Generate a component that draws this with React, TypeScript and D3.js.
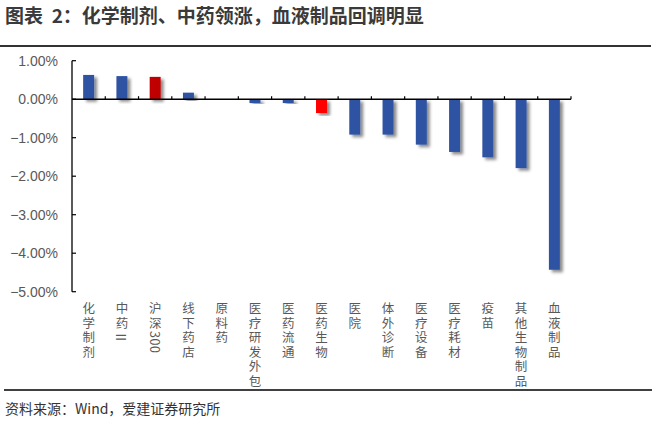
import * as d3 from 'd3';
import React from 'react';

// 申万医药子行业周涨跌幅
const categories = [
  '化学制剂', '中药Ⅱ', '沪深300', '线下药店', '原料药', '医疗研发外包', '医药流通',
  '医药生物', '医院', '体外诊断', '医疗设备', '医疗耗材', '疫苗', '其他生物制品', '血液制品',
];
const changes = [0.63, 0.6, 0.58, 0.17, 0.0, -0.1, -0.1, -0.36, -0.92, -0.92, -1.18, -1.37, -1.51, -1.79, -4.43];
const yTicks = [1, 0, -1, -2, -3, -4, -5];
const highlight: Record<string, string> = { '沪深300': '#c00000', '医药生物': '#ff0000' };

const title = '图表\u00a0\u00a02：化学制剂、中药领涨，血液制品回调明显';
const source = '资料来源：Wind，爱建证券研究所';

const W = 657;
const H = 422;
const left = 72;
const right = 571;

const BLUE = '#2e53a3';
const GREY = '#595959';

// vertical label; latin runs (and Ⅱ) are turned sideways
function XLabel({ label, x }: { label: string; x: number }) {
  const parts = label.split(/([0-9A-Za-z\u2160-\u216F]+)/).filter((s) => s);
  return (
    <text x={x} y={302} fontSize={12.5} fill={GREY}
      style={{ writingMode: 'vertical-rl', textOrientation: 'mixed', letterSpacing: '2px' }}>
      {parts.map((p, i) =>
        /[0-9A-Za-z\u2160-\u216F]/.test(p) ? (
          <tspan key={i} style={{ textOrientation: 'sideways', letterSpacing: '0.5px' }}>{p}</tspan>
        ) : (
          <tspan key={i}>{p}</tspan>
        )
      )}
    </text>
  );
}

export default function App() {
  const x = d3.scaleBand<string>().domain(categories).range([left, right]).paddingInner(0.67).paddingOuter(0.335);
  const y = d3.scaleLinear().domain([-5, 1]).range([291.7, 60.7]);
  const step = x.step();
  const y0 = y(0);

  return (
    <svg width={W} height={H} style={{ position: 'absolute', left: 0, top: 0, background: '#fff' }}
      fontFamily="'Noto Sans CJK SC', 'Noto Sans', sans-serif">
      <defs>
        <filter id="shadow" x="-50%" y="-20%" width="200%" height="140%">
          <feDropShadow dx={3} dy={2.5} stdDeviation={1.4} floodColor="#000" floodOpacity={0.45} />
        </filter>
      </defs>

      <text x={5} y={23} fontSize={19} fontWeight="bold" fill="#3a3a3a">{title}</text>
      <line x1={0} x2={651} y1={46} y2={46} stroke="#333" strokeWidth={2} />

      {/* y axis */}
      <line x1={left} x2={left} y1={y(1)} y2={y(-5)} stroke="#000" strokeWidth={1.3} />
      {yTicks.map((t) => (
        <g key={t}>
          <line x1={left} x2={left + 4} y1={y(t)} y2={y(t)} stroke="#000" strokeWidth={1.2} />
          <text x={58} y={y(t) + 5} textAnchor="end" fontSize={14} fill={GREY}
            fontFamily="'Liberation Sans', Arial, sans-serif">
            {d3.format('.2f')(t) + '%'}
          </text>
        </g>
      ))}

      {/* bars */}
      {categories.map((c, i) => {
        const v = changes[i];
        return (
          <rect key={c} x={x(c)} width={x.bandwidth()} y={Math.min(y(v), y0)}
            height={Math.abs(y(v) - y0)} fill={highlight[c] ?? BLUE} filter="url(#shadow)" />
        );
      })}

      {/* x axis at zero */}
      <line x1={left} x2={right} y1={y0} y2={y0} stroke="#000" strokeWidth={1.5} />
      {categories.map((c, i) => (
        <line key={c} x1={left + step * (i + 1)} x2={left + step * (i + 1)} y1={y0} y2={y0 - 3}
          stroke="#000" strokeWidth={1.2} />
      ))}

      {categories.map((c) => (
        <XLabel key={c} label={c} x={(x(c) ?? 0) + x.bandwidth() / 2} />
      ))}

      <line x1={4} x2={652} y1={390} y2={390} stroke="#404040" strokeWidth={2} />
      <text x={5} y={414} fontSize={14} fill="#333">{source}</text>
    </svg>
  );
}
